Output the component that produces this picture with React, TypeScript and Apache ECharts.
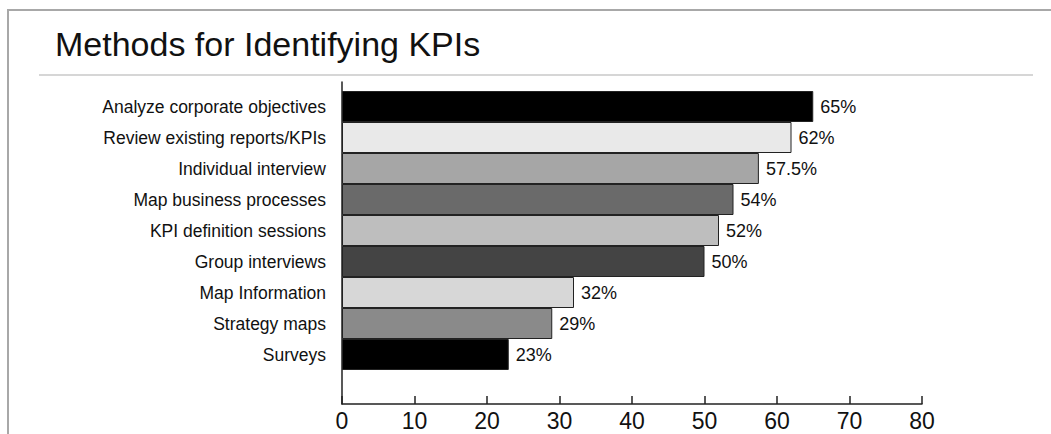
import React, { useEffect, useRef } from "react";
import * as echarts from "echarts";

const categories = [
  "Analyze corporate objectives",
  "Review existing reports/KPIs",
  "Individual interview",
  "Map business processes",
  "KPI definition sessions",
  "Group interviews",
  "Map Information",
  "Strategy maps",
  "Surveys",
];
const values = [65, 62, 57.5, 54, 52, 50, 32, 29, 23];
const barColors = ["#000000", "#e9e9e9", "#a6a6a6", "#6a6a6a", "#bebebe", "#444444", "#d7d7d7", "#8a8a8a", "#000000"];
const xTicks = { min: 0, max: 80, interval: 10 };
const title = "Methods for Identifying KPIs";

const FONT = "'Liberation Sans', Arial, sans-serif";

export default function App() {
  const ref = useRef<HTMLDivElement>(null);
  useEffect(() => {
    if (!ref.current) return;
    const chart = echarts.init(ref.current, undefined, { renderer: "svg" });
    chart.setOption({
      animation: false,
      backgroundColor: "#ffffff",
      title: {
        text: title,
        left: 50,
        top: 22,
        textStyle: { fontFamily: FONT, fontSize: 34, fontWeight: "normal", color: "#111" },
      },
      graphic: [
        { type: "line", shape: { x1: 8, y1: 10, x2: 1051, y2: 10 }, style: { stroke: "#a8a8a8", lineWidth: 2 } },
        { type: "line", shape: { x1: 8, y1: 9, x2: 8, y2: 434 }, style: { stroke: "#a8a8a8", lineWidth: 2 } },
        { type: "line", shape: { x1: 39, y1: 75, x2: 1033, y2: 75 }, style: { stroke: "#c8c8c8", lineWidth: 1.5 } },
      ],
      grid: [
        { left: 342, top: 91, height: 279, right: 129 },
        { left: 342, top: 82, bottom: 30, right: 129 },
      ],
      xAxis: [
        { gridIndex: 0, type: "value", min: xTicks.min, max: xTicks.max, interval: xTicks.interval, show: false },
        {
          gridIndex: 1,
          type: "value",
          min: xTicks.min,
          max: xTicks.max,
          interval: xTicks.interval,
          axisLine: { show: true, lineStyle: { color: "#222", width: 1.5 } },
          axisTick: { show: true, inside: true, length: 8, lineStyle: { color: "#222", width: 1.5 } },
          axisLabel: { fontFamily: FONT, fontSize: 23, color: "#111", margin: 5 },
          splitLine: { show: false },
        },
      ],
      yAxis: [
        {
          gridIndex: 0,
          type: "category",
          inverse: true,
          data: categories,
          axisLine: { show: false },
          axisTick: { show: false },
          axisLabel: { fontFamily: FONT, fontSize: 17.5, color: "#111", margin: 16 },
        },
        {
          gridIndex: 1,
          type: "value",
          min: 0,
          max: 1,
          axisLine: { show: true, lineStyle: { color: "#222", width: 1.5 } },
          axisTick: { show: false },
          axisLabel: { show: false },
          splitLine: { show: false },
        },
      ],
      series: [
        {
          type: "bar",
          xAxisIndex: 0,
          yAxisIndex: 0,
          barCategoryGap: 0,
          data: values.map((v, i) => ({
            value: v,
            itemStyle: { color: barColors[i], borderColor: "#222", borderWidth: 1 },
          })),
          label: {
            show: true,
            position: "right",
            distance: 7,
            fontFamily: FONT,
            fontSize: 18,
            color: "#111",
            formatter: (p: any) => `${p.value}%`,
          },
        },
      ],
    });
    return () => chart.dispose();
  }, []);
  return (
    <div
      ref={ref}
      style={{ position: "absolute", left: 0, top: 0, width: 1051, height: 434 }}
    />
  );
}
